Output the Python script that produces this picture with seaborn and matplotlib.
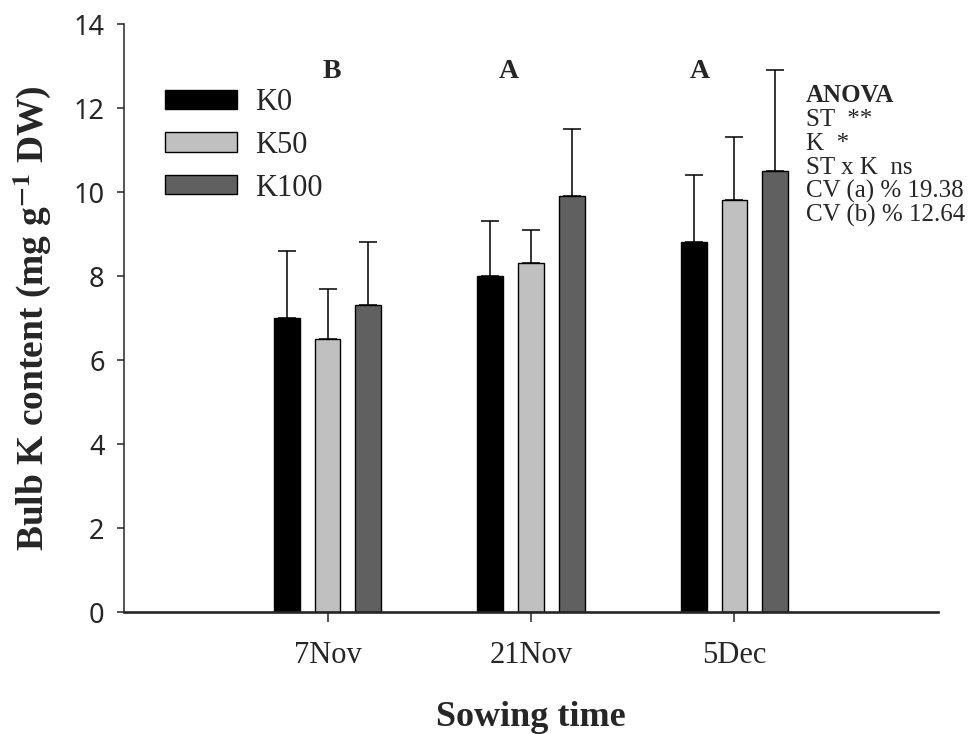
import numpy as np
import pandas as pd
import matplotlib
matplotlib.use("Agg")
import matplotlib.pyplot as plt
import seaborn as sns

# values
sowing = ["7Nov", "21Nov", "5Dec"]
levels = ["K0", "K50", "K100"]
k0 = [7.0, 8.0, 8.8]
k50 = [6.5, 8.3, 9.8]
k100 = [7.3, 9.9, 10.5]
k0_err = [1.6, 1.3, 1.6]
k50_err = [1.2, 0.8, 1.5]
k100_err = [1.5, 1.6, 2.4]
letters = ["B", "A", "A"]
anova_title = "ANOVA"
anova_lines = ["ST  **", "K  *", "ST x K  ns", "CV (a) % 19.38", "CV (b) % 12.64"]
colors = ["#000000", "#c0c0c0", "#606060"]

df = pd.DataFrame({
    "sowing": sowing * 3,
    "level": np.repeat(levels, 3),
    "value": k0 + k50 + k100,
    "err": k0_err + k50_err + k100_err,
})

sns.set_style("ticks")
plt.rcParams["font.family"] = ["Liberation Serif", "DejaVu Serif"]
plt.rcParams["mathtext.fontset"] = "stix"

fig = plt.figure(figsize=(9.72, 7.34), dpi=100)
ax = fig.add_axes([0.1276, 0.1662, 0.8374, 0.8011])

sns.barplot(data=df, x="sowing", y="value", hue="level", order=sowing,
            hue_order=levels, palette=colors, width=0.6, gap=0.37,
            errorbar=None, edgecolor="black", linewidth=1.0, saturation=1,
            ax=ax)

# one-sided error bars on top of each bar
for cont, lev in zip(ax.containers, levels):
    errs = df[df["level"] == lev].set_index("sowing").loc[sowing, "err"].values
    xs = [b.get_x() + b.get_width() / 2 for b in cont]
    ys = [b.get_height() for b in cont]
    ax.errorbar(xs, ys, yerr=[np.zeros(len(errs)), errs], fmt="none",
                ecolor="black", elinewidth=1.1, capsize=6.5, capthick=1.1,
                zorder=1)

# letters above groups
letter_x = [0.02, 0.89, 1.83]
for lx, lt in zip(letter_x, letters):
    ax.text(lx, 12.88, lt, ha="center", va="center", fontsize=20,
            fontweight="bold")

# anova block
ax.text(2.35, 12.14, anova_title, ha="left", va="baseline", fontsize=18,
        fontweight="bold")
for i, line in enumerate(anova_lines):
    ax.text(2.35, 12.14 - 0.567 * (i + 1), line, ha="left", va="baseline",
            fontsize=18)

ax.set_xlim(-1, 3)
ax.set_ylim(0, 14)
ax.set_yticks(range(0, 15, 2))
ax.set_xlabel("Sowing time", fontsize=26, fontweight="bold", labelpad=22)
ax.set_ylabel(r"Bulb K content (mg g$^{\mathbf{-1}}$ DW)", fontsize=27,
              fontweight="bold", labelpad=14)

for lab in ax.get_yticklabels():
    lab.set_fontfamily("Noto Sans")
    lab.set_fontsize(19.5)
for lab in ax.get_xticklabels():
    lab.set_fontsize(22)
ax.tick_params(axis="y", length=5, width=1.1, pad=9)
ax.tick_params(axis="x", length=7, width=1.1, pad=14)

sns.despine(ax=ax)
ax.spines["left"].set_linewidth(1.1)
ax.spines["bottom"].set_linewidth(1.9)

handles, labels = ax.get_legend_handles_labels()
for h in handles:
    h.set_edgecolor("black")
    h.set_linewidth(1.0)
ax.legend(handles, labels, loc="upper left", bbox_to_anchor=(165 / 972, 1 - 88 / 734),
          bbox_transform=fig.transFigure, frameon=False, fontsize=22,
          handlelength=2.35, handleheight=0.59, handletextpad=0.6,
          labelspacing=0.45, borderpad=0, borderaxespad=0)

fig.savefig("out.png", dpi=100)
